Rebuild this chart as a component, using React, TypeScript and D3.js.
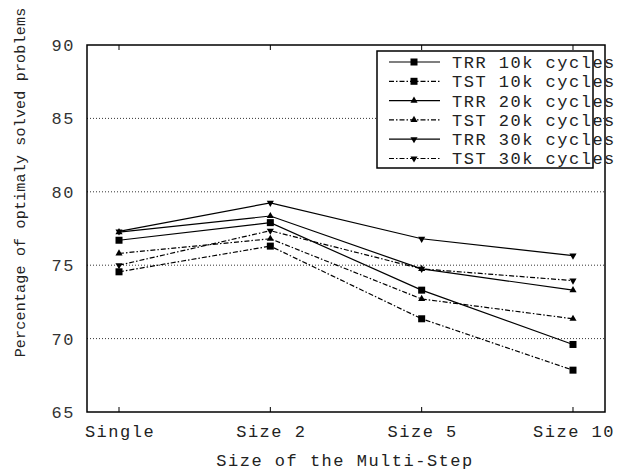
import React from "react";
import * as d3 from "d3";

const categories = ["Single", "Size 2", "Size 5", "Size 10"];
const yTicks = [65, 70, 75, 80, 85, 90];

const trr10 = [76.7, 77.9, 73.3, 69.6];
const tst10 = [74.55, 76.3, 71.35, 67.85];
const trr20 = [77.25, 78.35, 74.75, 73.3];
const tst20 = [75.8, 76.8, 72.7, 71.35];
const trr30 = [77.3, 79.25, 76.8, 75.65];
const tst30 = [75.0, 77.35, 74.75, 73.95];

const seriesNames = [
  "TRR 10k cycles",
  "TST 10k cycles",
  "TRR 20k cycles",
  "TST 20k cycles",
  "TRR 30k cycles",
  "TST 30k cycles",
];
const seriesValues = [trr10, tst10, trr20, tst20, trr30, tst30];
const markers = ["square", "square", "up", "up", "down", "down"];

const W = 625;
const H = 471;
const left = 87;
const right = 605;
const top = 45;
const bottom = 412;
const font = "'Liberation Mono', monospace";
const dashDot = "5,2,1.5,2";
const ls = 1.5;

const Marker = ({ kind, x, y }: { kind: string; x: number; y: number }) => {
  if (kind === "square") {
    return <rect x={x - 3.5} y={y - 3.5} width={7} height={7} fill="#000" />;
  }
  const sym = d3.symbol().type(d3.symbolTriangle).size(22)();
  const rot = kind === "down" ? 180 : 0;
  return <path d={sym || ""} transform={`translate(${x},${y}) rotate(${rot})`} fill="#000" />;
};

const App = () => {
  const x = d3.scalePoint<string>().domain(categories).range([left, right]).padding(0.2115);
  const y = d3.scaleLinear().domain([65, 90]).range([bottom, top]);

  const line = d3
    .line<number>()
    .x((_, i) => x(categories[i]) as number)
    .y((d) => y(d));

  const legX = 377;
  const legY = 51;
  const legRowH = 19.3;

  return (
    <svg
      width={W}
      height={H}
      style={{ position: "absolute", left: 0, top: 0, background: "#fff" }}
      fontFamily={font}
      fontSize={17}
    >
      {/* grid */}
      {yTicks.slice(1, -1).map((t) => (
        <line
          key={t}
          x1={left}
          x2={right}
          y1={y(t)}
          y2={y(t)}
          stroke="#000"
          strokeWidth={0.8}
          strokeDasharray="1,2"
        />
      ))}

      {/* y tick labels */}
      {yTicks.map((t) => (
        <text key={t} x={75} y={y(t)} dy="0.35em" textAnchor="end" letterSpacing={ls} fill="#333">
          {t}
        </text>
      ))}

      {/* x ticks and labels */}
      {categories.map((c) => (
        <g key={c}>
          <line x1={x(c)} x2={x(c)} y1={bottom} y2={bottom - 5} stroke="#000" />
          <line x1={x(c)} x2={x(c)} y1={top} y2={top + 5} stroke="#000" />
          <text x={(x(c) as number) + 1} y={437} textAnchor="middle" letterSpacing={ls} fill="#222">
            {c}
          </text>
        </g>
      ))}

      {/* series */}
      {seriesValues.map((vals, si) => (
        <g key={si}>
          <path
            d={line(vals) || ""}
            fill="none"
            stroke="#000"
            strokeWidth={1.2}
            strokeDasharray={si % 2 === 1 ? dashDot : undefined}
          />
          {vals.map((v, i) => (
            <Marker key={i} kind={markers[si]} x={x(categories[i]) as number} y={y(v)} />
          ))}
        </g>
      ))}

      {/* frame */}
      <rect x={left} y={top} width={right - left} height={bottom - top} fill="none" stroke="#000" strokeWidth={1.5} />

      {/* legend */}
      <rect
        x={legX}
        y={legY}
        width={593 - legX}
        height={168 - legY}
        fill="#fff"
        stroke="#000"
        strokeWidth={1.5}
      />
      {seriesNames.map((name, si) => {
        const ry = 62 + si * legRowH;
        return (
          <g key={name}>
            <line
              x1={389}
              x2={440}
              y1={ry}
              y2={ry}
              stroke="#000"
              strokeWidth={1.2}
              strokeDasharray={si % 2 === 1 ? dashDot : undefined}
            />
            <Marker kind={markers[si]} x={414} y={ry} />
            <text x={452} y={ry} dy="0.35em" letterSpacing={ls} fill="#222">
              {name}
            </text>
          </g>
        );
      })}

      {/* axis titles */}
      <text x={345} y={466} textAnchor="middle" letterSpacing={ls} fill="#222">
        Size of the Multi-Step
      </text>
      <text
        transform={`translate(25,182.5) rotate(-90)`}
        textAnchor="middle"
        fontSize={15}
        letterSpacing={0.2}
        fill="#222"
      >
        Percentage of optimaly solved problems
      </text>
    </svg>
  );
};

export default App;
